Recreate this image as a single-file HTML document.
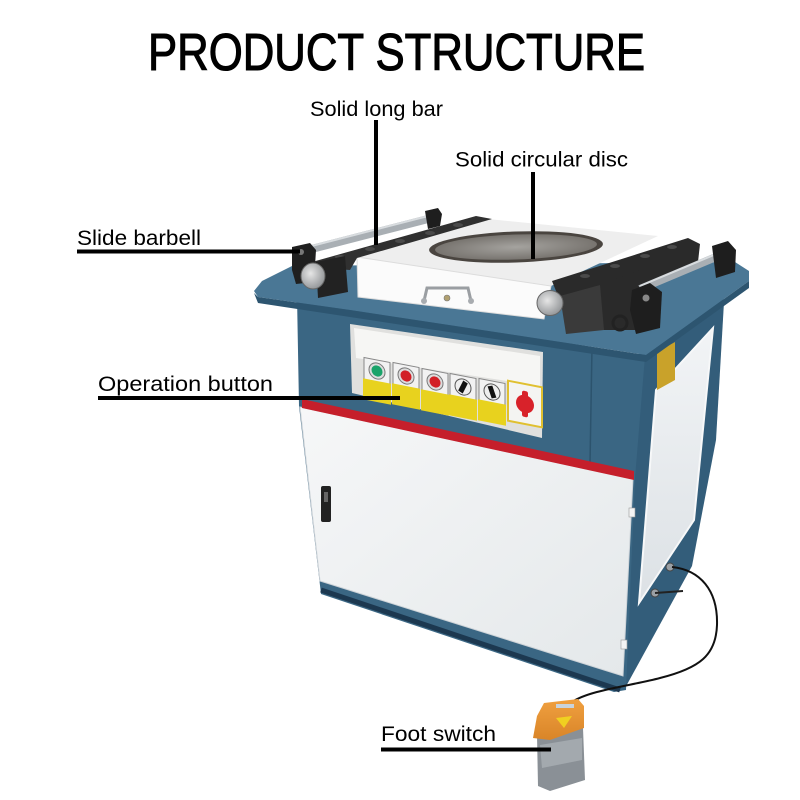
<!DOCTYPE html>
<html><head><meta charset="utf-8"><style>
html,body{margin:0;padding:0;background:#fff;}
svg{display:block}
text{font-family:"Liberation Sans",Arial,sans-serif;fill:#000}
</style></head><body>
<svg width="800" height="800" viewBox="0 0 800 800" xmlns="http://www.w3.org/2000/svg">
<defs>
<linearGradient id="door" x1="0" y1="0" x2="1" y2="1">
<stop offset="0" stop-color="#f6f7f8"/><stop offset="1" stop-color="#e4e8ea"/>
</linearGradient>
<linearGradient id="side" x1="0" y1="0" x2="0" y2="1">
<stop offset="0" stop-color="#f2f4f6"/><stop offset="1" stop-color="#dce1e5"/>
</linearGradient>
<radialGradient id="knob" cx="0.4" cy="0.4" r="0.7">
<stop offset="0" stop-color="#e6e6e6"/><stop offset="1" stop-color="#8a8d90"/>
</radialGradient>
<radialGradient id="disc" cx="0.5" cy="0.5" r="0.6">
<stop offset="0" stop-color="#a5a39f"/><stop offset="1" stop-color="#6f6b66"/>
</radialGradient>
<linearGradient id="orange" x1="0" y1="0" x2="0" y2="1">
<stop offset="0" stop-color="#f0a040"/><stop offset="1" stop-color="#d98528"/>
</linearGradient>
</defs>

<!-- side face -->
<polygon points="636,356 722,290 724,302 716,440 692,566 624,690 626,478" fill="#335d7a"/>
<!-- front body -->
<polygon points="297,296 645,356 635,478 626,690 614,692 321,594 299,406" fill="#3a6683"/>
<line x1="321" y1="590" x2="620" y2="690" stroke="#1c3850" stroke-width="5"/>
<line x1="592" y1="347" x2="590" y2="464" stroke="#2c536d" stroke-width="1.5"/>
<!-- side white panel -->
<polygon points="656,390 713,328 694,520 639,603" fill="url(#side)" stroke="#f7f8f9" stroke-width="2"/>
<polygon points="657,352 675,342 675,380 657,390" fill="#c9a22a"/>
<!-- door -->
<polygon points="300,407 633,479 623,676 320,581" fill="url(#door)" stroke="#cdd3d8" stroke-width="1"/>
<polygon points="302,399 634,471 634,480 302,408" fill="#c51f2b"/>
<rect x="321" y="486" width="10" height="36" rx="2" fill="#222"/>
<rect x="324" y="492" width="4" height="10" fill="#666"/>
<rect x="629" y="508" width="6" height="9" fill="#f4f4f4" stroke="#999" stroke-width="0.6"/>
<rect x="621" y="640" width="6" height="9" fill="#f4f4f4" stroke="#999" stroke-width="0.6"/>

<!-- control recess -->
<polygon points="350,324 543,352 542,438 352,393" fill="#e0e0de"/>
<polygon points="354,328 540,356 540,386 356,358" fill="#f6f6f4"/>
<g transform="translate(377,371) skewY(11)">
<rect x="-13" y="-11" width="26" height="22" fill="#f2f2f2" stroke="#888" stroke-width="1"/>
<rect x="-14" y="10" width="28" height="21" fill="#e8d21e"/>
<circle cx="0" cy="0" r="8" fill="#ddd" stroke="#777"/><circle cx="0" cy="0" r="5.5" fill="#1aa36a"/></g>
<g transform="translate(406,376) skewY(11)">
<rect x="-13" y="-11" width="26" height="22" fill="#f2f2f2" stroke="#888" stroke-width="1"/>
<rect x="-14" y="10" width="28" height="21" fill="#e8d21e"/>
<circle cx="0" cy="0" r="8" fill="#ddd" stroke="#777"/><circle cx="0" cy="0" r="5.5" fill="#d21f26"/></g>
<g transform="translate(435,382) skewY(11)">
<rect x="-13" y="-11" width="26" height="22" fill="#f2f2f2" stroke="#888" stroke-width="1"/>
<rect x="-14" y="10" width="28" height="21" fill="#e8d21e"/>
<circle cx="0" cy="0" r="8" fill="#ddd" stroke="#777"/><circle cx="0" cy="0" r="5.5" fill="#d21f26"/></g>
<g transform="translate(463,387) skewY(11)">
<rect x="-13" y="-11" width="26" height="22" fill="#f2f2f2" stroke="#888" stroke-width="1"/>
<rect x="-14" y="10" width="28" height="21" fill="#e8d21e"/>
<circle cx="0" cy="0" r="8" fill="#eee" stroke="#555"/><rect x="-2.5" y="-6" width="5" height="12" fill="#111" transform="rotate(25)"/></g>
<g transform="translate(492,392) skewY(11)">
<rect x="-13" y="-11" width="26" height="22" fill="#f2f2f2" stroke="#888" stroke-width="1"/>
<rect x="-14" y="10" width="28" height="21" fill="#e8d21e"/>
<circle cx="0" cy="0" r="8" fill="#eee" stroke="#555"/><rect x="-2.5" y="-6" width="5" height="12" fill="#111" transform="rotate(-20)"/></g>
<g transform="translate(525,404) skewY(11)">
<rect x="-17" y="-20" width="34" height="40" fill="#f4f4f2" stroke="#e0c030" stroke-width="2"/>
<circle cx="0" cy="0" r="9" fill="#d8222a"/><rect x="-3" y="-13" width="6" height="26" rx="2" fill="#d8222a"/></g>

<!-- flange -->
<polygon points="254,291 262,281 292,266 735,262 749,271 749,281 646,355 350,310 258,297" fill="#4a7795"/>
<polygon points="258,297 350,310 646,355 646,362 350,317 258,303 254,293" fill="#2d5570"/>
<polygon points="749,281 749,288 646,362 646,355" fill="#2d5570"/>

<!-- white top box -->
<polygon points="357,257 488,219 658,236 551,286" fill="#eeeeee"/>
<polygon points="357,257 551,286 544,319 358,297" fill="#fbfbfb" stroke="#dcdcdc" stroke-width="1"/>
<ellipse cx="516" cy="247" rx="87" ry="15.5" fill="#4a4540" transform="rotate(-2 516 247)"/>
<ellipse cx="516" cy="247" rx="81" ry="12.5" fill="url(#disc)" transform="rotate(-2 516 247)"/>
<path d="M424,301 L427,288 L468,288 L471,301" stroke="#9a9ea2" stroke-width="3" fill="none"/>
<circle cx="424" cy="301" r="3" fill="#a8acb0"/><circle cx="471" cy="301" r="3" fill="#a8acb0"/>
<circle cx="447" cy="298" r="3" fill="#b0a070" stroke="#777" stroke-width="0.6"/>

<!-- left slide -->
<polygon points="312,262 476,216 492,219 357,258 350,270 320,268" fill="#303030"/>
<g fill="#4a4a4a">
<ellipse cx="340" cy="257" rx="5" ry="2"/><ellipse cx="370" cy="249" rx="5" ry="2"/><ellipse cx="400" cy="241" rx="5" ry="2"/><ellipse cx="430" cy="233" rx="5" ry="2"/><ellipse cx="458" cy="225" rx="5" ry="2"/></g>
<line x1="300" y1="252" x2="432" y2="218" stroke="#a9afb4" stroke-width="8"/>
<line x1="300" y1="249" x2="432" y2="215" stroke="#d8dcdf" stroke-width="2"/>
<polygon points="425,211 438,208 442,214 440,226 428,229" fill="#1e1e1e"/>
<polygon points="292,247 310,243 316,250 314,282 296,284 292,270" fill="#1f1f1f"/>
<circle cx="301" cy="252" r="3" fill="#777"/>
<polygon points="316,262 345,256 348,292 318,298" fill="#222"/>
<ellipse cx="313" cy="276" rx="12" ry="13" fill="url(#knob)" stroke="#666" stroke-width="1"/>

<!-- right slide -->
<polygon points="552,281 688,238 700,244 698,262 600,310 562,306" fill="#2a2a2a"/>
<g fill="#4a4a4a">
<ellipse cx="585" cy="276" rx="5" ry="2"/><ellipse cx="615" cy="266" rx="5" ry="2"/><ellipse cx="645" cy="256" rx="5" ry="2"/><ellipse cx="672" cy="247" rx="5" ry="2"/></g>
<polygon points="580,292 640,270 650,300 635,330 590,330" fill="#2a2a2a"/>
<polygon points="560,296 600,285 604,330 566,334" fill="#3a3a3a"/>
<line x1="640" y1="289" x2="728" y2="252" stroke="#a9afb4" stroke-width="8"/>
<line x1="640" y1="286" x2="728" y2="249" stroke="#d8dcdf" stroke-width="2"/>
<polygon points="712,246 728,241 736,250 735,272 716,278" fill="#1e1e1e"/>
<polygon points="632,290 650,283 662,292 660,328 636,334 630,310" fill="#1e1e1e"/>
<circle cx="646" cy="298" r="3.5" fill="#888"/>
<circle cx="620" cy="323" r="7" fill="none" stroke="#222" stroke-width="3"/>
<ellipse cx="550" cy="303" rx="13" ry="12.5" fill="url(#knob)" stroke="#666" stroke-width="1"/>

<!-- bolts & cable -->
<circle cx="670" cy="567" r="4" fill="#9aa0a5" stroke="#444"/>
<circle cx="655" cy="593" r="4" fill="#9aa0a5" stroke="#444"/>
<path d="M655,593 L683,591" stroke="#222" stroke-width="2" fill="none"/>
<path d="M672,567 C700,570 718,590 717,625 C716,655 700,668 660,678 C630,686 590,690 572,702" stroke="#111" stroke-width="2" fill="none"/>

<!-- foot switch -->
<polygon points="537,735 583,728 585,780 550,791 538,786" fill="#8a9096"/>
<polygon points="540,745 582,738 582,760 542,768" fill="#a3a9ae"/>
<polygon points="544,703 578,699 584,706 584,728 550,740 533,738 537,716" fill="url(#orange)"/>
<polygon points="556,718 572,716 564,728" fill="#f0d020"/>
<rect x="556" y="704" width="18" height="4" fill="#c9d3dc"/>

<!-- title -->
<text x="148" y="70" font-size="52" textLength="497" lengthAdjust="spacingAndGlyphs" stroke="#000" stroke-width="1.1">PRODUCT STRUCTURE</text>
<!-- labels -->
<text x="310" y="116" font-size="21" textLength="133" lengthAdjust="spacingAndGlyphs">Solid long bar</text>
<text x="455" y="166.5" font-size="21" textLength="173" lengthAdjust="spacingAndGlyphs">Solid circular disc</text>
<text x="77" y="245" font-size="21" textLength="124" lengthAdjust="spacingAndGlyphs">Slide barbell</text>
<text x="98" y="391" font-size="21" textLength="175" lengthAdjust="spacingAndGlyphs">Operation button</text>
<text x="381" y="741" font-size="21" textLength="115" lengthAdjust="spacingAndGlyphs">Foot switch</text>

<!-- leader lines -->
<rect x="374" y="120" width="4" height="125" fill="#000"/>
<rect x="531" y="172" width="4" height="87" fill="#000"/>
<rect x="77" y="249.5" width="223" height="4" fill="#000"/>
<rect x="98" y="396" width="302" height="4" fill="#000"/>
<rect x="381" y="747.5" width="170" height="4" fill="#000"/>
</svg>
</body></html>
